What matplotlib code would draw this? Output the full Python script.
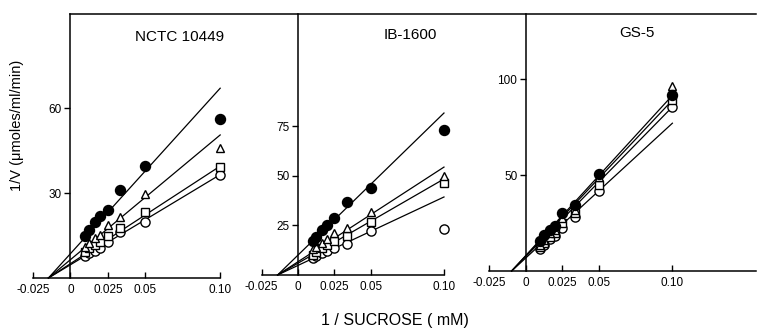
import matplotlib
matplotlib.use('Agg')
import matplotlib.pyplot as plt
import numpy as np

plt.rcParams['font.family'] = ['Liberation Sans', 'DejaVu Sans']

# 1/[sucrose] (mM^-1)
inv_s = [0.01, 0.0125, 0.0167, 0.02, 0.025, 0.0333, 0.05, 0.10]
x_ticks = [-0.025, 0, 0.025, 0.05, 0.10]
x_tick_labels = ['-0.025', '0', '0.025', '0.05', '0.10']

strains = ['NCTC 10449', 'IB-1600', 'GS-5']

# NCTC 10449
p1_filled = [14.8, 16.9, 19.8, 21.9, 24.0, 31.1, 39.5, 56.1]
p1_tri = [10.9, 12.4, 14.1, 15.2, 18.7, 21.5, 29.6, 45.9]
p1_sq = [9.2, 10.6, 11.6, 12.7, 14.8, 17.6, 23.3, 39.2]
p1_circ = [7.8, 8.8, 9.5, 10.6, 12.7, 16.2, 19.8, 36.4]
p1_line_xint = -0.0147
p1_line_end = [67.0, 50.5, 39.5, 36.5]
p1_yticks = [30, 60]

# IB-1600
p2_filled = [17.2, 19.2, 22.7, 25.3, 28.8, 36.9, 43.9, 73.2]
p2_tri = [13.1, 14.1, 16.2, 18.2, 21.2, 23.7, 31.8, 50.0]
p2_sq = [10.1, 11.6, 13.6, 15.2, 17.2, 19.7, 26.8, 46.5]
p2_circ = [8.6, 9.6, 11.1, 12.1, 13.6, 15.6, 22.2, 23.2]
p2_line_xint = -0.014
p2_line_end = [81.8, 54.5, 48.5, 39.4]
p2_yticks = [25, 50, 75]

# GS-5
p3_filled = [15.6, 18.8, 21.4, 23.4, 30.2, 34.4, 50.5, 91.7]
p3_tri = [13.5, 16.2, 19.8, 21.4, 27.6, 31.8, 49.0, 96.4]
p3_sq = [12.5, 14.6, 17.7, 19.8, 25.0, 30.2, 44.8, 89.1]
p3_circ = [11.5, 13.5, 16.7, 18.2, 22.4, 28.1, 41.7, 85.4]
p3_line_xint = -0.0096
p3_line_end = [91.5, 89.0, 85.5, 77.0]
p3_yticks = [50, 100]

panels = [
    dict(series=[p1_filled, p1_tri, p1_sq, p1_circ], xint=p1_line_xint, ends=p1_line_end,
         yticks=p1_yticks, px=(33, 297, 278, 14), xlim=(-0.025, 0.1513), ylim=(0, 93.2),
         xb=0.10, title_xy=(180, 37)),
    dict(series=[p2_filled, p2_tri, p2_sq, p2_circ], xint=p2_line_xint, ends=p2_line_end,
         yticks=p2_yticks, px=(261.5, 525, 275, 14), xlim=(-0.025, 0.1555), ylim=(0, 131.8),
         xb=0.10, title_xy=(410, 35)),
    dict(series=[p3_filled, p3_tri, p3_sq, p3_circ], xint=p3_line_xint, ends=p3_line_end,
         yticks=p3_yticks, px=(489, 756, 271, 14), xlim=(-0.025, 0.157), ylim=(0, 133.9),
         xb=0.157, title_xy=(637, 33)),
]

markers = [dict(marker='o', mfc='black', mec='black', ms=7.2),
           dict(marker='^', mfc='white', mec='black', ms=6.0, mew=1.0),
           dict(marker='s', mfc='white', mec='black', ms=5.8, mew=1.0),
           dict(marker='o', mfc='white', mec='black', ms=6.6, mew=1.0)]

W, H = 757, 329
fig = plt.figure(figsize=(W / 100, H / 100), dpi=100)

for i, p in enumerate(panels):
    l, r, y0, yt = p['px']
    ax = fig.add_axes([l / W, (H - y0) / H, (r - l) / W, (y0 - yt) / H])
    ax.set_facecolor('none')
    ax.set_xlim(*p['xlim'])
    ax.set_ylim(*p['ylim'])
    for end in p['ends']:
        ax.plot([p['xint'], 0.10], [0, end], color='black', lw=0.9, clip_on=False, zorder=2)
    for ser, mk in zip(p['series'][::-1], markers[::-1]):
        ax.plot(inv_s, ser, linestyle='none', zorder=3, clip_on=False, **mk)
    ax.spines['right'].set_visible(False)
    ax.spines['left'].set_position(('data', 0))
    ax.spines['bottom'].set_bounds(-0.025, p['xb'])
    ax.spines['top'].set_bounds(0, p['xlim'][1])
    for s in ['left', 'bottom', 'top']:
        ax.spines[s].set_linewidth(1.1)
    ax.set_xticks(x_ticks)
    ax.set_xticklabels(x_tick_labels)
    ax.set_yticks(p['yticks'])
    ax.set_yticklabels([str(v) for v in p['yticks']])
    ax.tick_params(axis='x', direction='in', length=4, width=1, labelsize=8.5, pad=4)
    ax.tick_params(axis='y', direction='out', length=4, width=1, labelsize=8.5, pad=2)
    tx, ty = p['title_xy']
    fig.text(tx / W, 1 - ty / H, strains[i], ha='center', va='center', fontsize=11)

fig.text(17 / W, 1 - 125 / H, '1/V (μmoles/ml/min)', rotation=90, ha='center', va='center', fontsize=10.5)
fig.text(395 / W, 1 - 320 / H, '1 / SUCROSE ( mM)', ha='center', va='center', fontsize=11.5)

fig.savefig('out.png', dpi=100)
